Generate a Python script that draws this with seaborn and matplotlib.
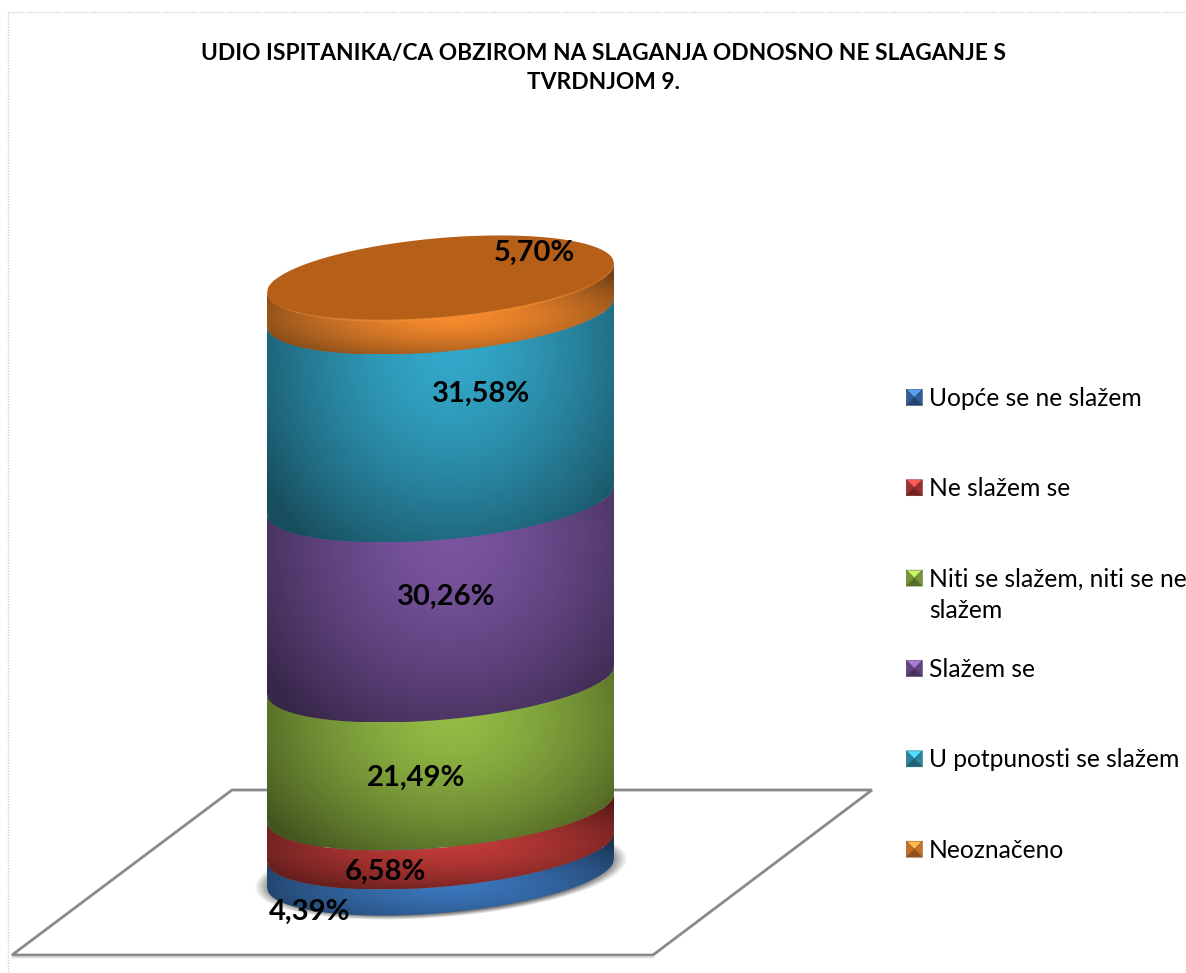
import numpy as np
import pandas as pd
import seaborn as sns
import matplotlib.pyplot as plt
from matplotlib.collections import LineCollection
from matplotlib.colors import to_rgb
from matplotlib.legend_handler import HandlerBase
from matplotlib.patches import Patch, Polygon

W, H = 1186, 973

categories = ['Uopće se ne slažem', 'Ne slažem se', 'Niti se slažem, niti se ne\nslažem',
              'Slažem se', 'U potpunosti se slažem', 'Neoznačeno']
shares = [4.39, 6.58, 21.49, 30.26, 31.58, 5.70]
colors = ['#3b76bc', '#c13b38', '#94bc45', '#7a55a0', '#33a8ca', '#f98c2d']
title = 'UDIO ISPITANIKA/CA OBZIROM NA SLAGANJA ODNOSNO NE SLAGANJE S\nTVRDNJOM 9.'

# where Excel happened to leave the data labels (pixels)
label_xy = [(310, 912), (385, 872), (416, 778), (446, 597), (481, 394), (534, 253)]

sns.set_theme(style='white')
plt.rcParams['font.family'] = ['Lato', 'DejaVu Sans']

fig = plt.figure(figsize=(W / 100, H / 100), dpi=100)

# pixel axes behind the cylinder: page border, floor, shadow
deco = fig.add_axes([0, 0, 1, 1])
deco.set_xlim(0, W)
deco.set_ylim(H, 0)
deco.set_axis_off()

deco.plot([8, W], [12, 12], color='#c4d4e8', lw=1, ls=(0, (1, 1)))
deco.plot([8, 8], [12, H], color='#c4d4e8', lw=1, ls=(0, (1, 1)))

floor_xy = [(232, 790), (872, 790), (653, 955), (12, 955)]
deco.add_patch(Polygon(floor_xy, closed=True, fc='white', ec='#8a8a8a', lw=2))
deco.plot([12, 653], [957, 957], color='#d8d8d8', lw=1)

gx, gy = np.meshgrid(np.linspace(220, 660, 440), np.linspace(830, 940, 110))
sx = (gx - 441) / 187
sy = (gy - 873 - sx * -14.5) / 45
dist = np.sqrt(sx ** 2 + sy ** 2)
shadow = np.zeros(gx.shape + (4,))
shadow[..., 3] = np.clip((1.0 - dist) / 0.1, 0, 1) * 0.55
deco.imshow(shadow, extent=(220, 660, 940, 830), aspect='auto', interpolation='bilinear', zorder=2)
deco.set_xlim(0, W)
deco.set_ylim(H, 0)

# data axes: y is the cumulative share, 0 and 100 sit at these pixel rows
left, right, y0, y100 = 267, 614, 873, 278
ax = fig.add_axes([left / W, 1 - y0 / H, (right - left) / W, (y0 - y100) / H])
ax.patch.set_alpha(0)

df = pd.DataFrame({'cat': categories, 'share': shares})
df['top'] = df['share'].cumsum()
df['bottom'] = df['top'] - df['share']

# tallest first so the lower bars stay visible
for i in range(len(df) - 1, -1, -1):
    sns.barplot(x=['stup'], y=[df['top'][i]], color=colors[i], width=1, saturation=1, ax=ax)

px_per_pct = (y0 - y100) / 100
tilt = 14.5 / px_per_pct
depth = 40 / px_per_pct
s = np.linspace(-1, 1, 300)
xs = s / 2


def front(p):
    return p + tilt * s - depth * np.sqrt(1 - s ** 2)


def back(p):
    return p + tilt * s + depth * np.sqrt(1 - s ** 2)


# the flat bars may not poke out past the round outline
body = Polygon(np.r_[np.c_[xs, front(0)], np.c_[xs, back(100)][::-1]], closed=True, transform=ax.transData)
for bar in ax.patches:
    bar.set_clip_path(body)

# each segment: curved band with a soft light on the front, drawn bottom to top
for i in range(len(df)):
    lo = front(df['bottom'][i])
    hi = front(df['top'][i])
    band = Polygon(np.r_[np.c_[xs, lo], np.c_[xs, hi][::-1]], closed=True, transform=ax.transData)
    ymin, ymax = lo.min(), hi.max()
    ix, iy = np.meshgrid(np.linspace(-0.5, 0.5, 350), np.linspace(ymin, ymax, 300))
    crest = df['top'][i] - depth * 0.95
    rx = (ix - 0.03) / 0.62
    ry = (iy - crest) / max(df['share'][i] * 1.25, 9)
    shade = np.clip(1 - 0.5 * np.sqrt(rx ** 2 + ry ** 2) ** 1.5, 0.46, 1)
    rgb = np.array(to_rgb(colors[i]))
    im = ax.imshow(shade[..., None] * rgb, extent=(-0.5, 0.5, ymin, ymax), origin='lower',
                   aspect='auto', interpolation='bilinear', zorder=3 + i)
    im.set_clip_box(fig.bbox)
    im.set_clip_path(band)

# top face of the cylinder, rim lit at the front and fading to the sides
top_face = np.r_[np.c_[xs, front(100)], np.c_[xs, back(100)][::-1]]
ax.add_patch(Polygon(top_face, closed=True, fc='#b55f18', ec='none', zorder=20, clip_on=False))
pts = np.c_[xs, front(100)]
segs = np.stack([pts[:-1], pts[1:]], axis=1)
rim_rgba = np.tile(to_rgb('#f9902f') + (0.0,), (len(segs), 1))
rim_rgba[:, 3] = np.clip(1 - np.abs(s[:-1] - 0.03) ** 2, 0, 1) * 0.9
ax.add_collection(LineCollection(segs, colors=rim_rgba, linewidths=1.3, zorder=21, clip_on=False))

ax.set_xlim(-0.5, 0.5)
ax.set_ylim(0, 100)
ax.set_axis_off()


def to_fig(x, y):
    return x / W, 1 - y / H


for value, (lx, ly) in zip(shares, label_xy):
    fx, fy = to_fig(lx, ly)
    fig.text(fx, fy, f'{value:.2f}'.replace('.', ',') + '%', fontsize=21, fontweight='bold',
             color='black', ha='center', va='center')

fx, fy = to_fig(604, 68)
fig.text(fx, fy, title, fontsize=16.4, fontweight='bold', color='black', ha='center', va='center',
         linespacing=1.5)


class BevelSquare(HandlerBase):
    # small pyramid-style key like the Excel bevel markers
    def create_artists(self, legend, orig, xd, yd, width, height, fontsize, trans):
        c = np.array(to_rgb(orig.get_facecolor()))
        size = 11.5
        x0 = -xd + (width - size) / 2
        y0_ = -yd + (height - size) / 2
        x1, y1 = x0 + size, y0_ + size
        mx, my = x0 + size / 2, y0_ + size / 2
        faces = [([(x0, y0_), (x0, y1), (mx, my)], c * 0.8),
                 ([(x1, y0_), (x1, y1), (mx, my)], c * 0.8),
                 ([(x0, y0_), (x1, y0_), (mx, my)], c * 0.58),
                 ([(x0, y1), (x1, y1), (mx, my)], np.clip(c * 1.2 + 0.08, 0, 1))]
        return [Polygon(pts, closed=True, fc=col, ec=c * 0.6, lw=0.4, transform=trans) for pts, col in faces]


# Excel lets the wrapped line hang into the gap, the legend rows stay evenly spaced
first_lines = [c.split('\n')[0] for c in categories]
handles = [Patch(facecolor=c) for c in colors]
leg = fig.legend(handles, first_lines, handler_map={Patch: BevelSquare()}, frameon=False,
                 loc='upper left', bbox_to_anchor=(902 / W, 1 - 387 / H), borderaxespad=0, borderpad=0,
                 fontsize=17.7, labelspacing=2.74, handlelength=1.0, handletextpad=0.1,
                 labelcolor='black')
fx, fy = to_fig(929, 610)
fig.text(fx, fy, categories[2].split('\n')[1], fontsize=17.7, color='black', ha='left', va='center')

fig.savefig('out.png', dpi=100)
